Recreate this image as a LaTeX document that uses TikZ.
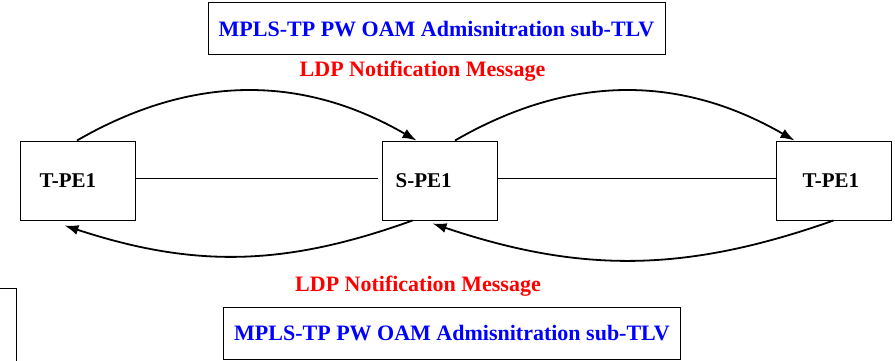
\documentclass[tikz,border=0pt]{standalone}
\usepackage{fontspec}
\setmainfont{Liberation Serif}
\usetikzlibrary{arrows.meta}
\usetikzlibrary{positioning}
\tikzset{msg/.style = {-{Latex[length=14pt, width=10pt]}, line width=1.8pt}}
\tikzset{pebox/.style = {draw, line width=1pt, minimum width=115pt, minimum height=79pt, inner sep=0pt}}
\tikzset{pelabel/.style = {font=\fontsize{21}{25}\selectfont\bfseries, inner sep=0pt}}
\tikzset{tlvbox/.style = {draw, line width=1pt, minimum width=457pt, minimum height=52pt, inner sep=0pt,
                          font=\fontsize{22}{26}\selectfont\bfseries, text=oamblue}}
\tikzset{ldptext/.style = {font=\fontsize{22}{26}\selectfont\bfseries, text=ldpred, inner sep=0pt}}
\definecolor{oamblue}{rgb}{0, 0, 1}
\definecolor{ldpred}{rgb}{1, 0, 0}

\begin{document}
\begin{tikzpicture}[x=1pt, y=-1pt]
    \clip (0, 0) rectangle (895, 361);

    \node [pebox] (tpe1) at (77.5, 180.5) {};
    \node [pebox, right=246pt of tpe1] (spe1) {};
    \node [pebox, right=278pt of spe1] (tpe2) {};
    \node [pelabel, anchor=west] (tpe1lbl) at ([xshift=20pt]tpe1.west) {T-PE1};
    \node [pelabel, anchor=west] (spe1lbl) at ([xshift=14pt]spe1.west) {S-PE1};
    \node [pelabel, anchor=west] (tpe2lbl) at ([xshift=27pt]tpe2.west) {T-PE1};

    \draw [line width=0.6pt] ([yshift=2.5pt]tpe1.east) -- ([xshift=-4pt, yshift=2.5pt]spe1.west);
    \draw [line width=0.6pt] ([yshift=2.5pt]spe1.east) -- ([yshift=2.5pt]tpe2.west);

    \draw [msg] ([xshift=-0.5pt]tpe1.north) to [bend left=30] ([xshift=35pt]spe1.north west);
    \draw [msg] ([xshift=15.5pt]spe1.north) to [bend left=30] ([xshift=19pt]tpe2.north west);
    \draw [msg] ([xshift=31pt]spe1.south west) to [bend left=19] ([xshift=45pt, yshift=-5pt]tpe1.south west);
    \draw [msg] (tpe2.south) to [bend left=19] ([xshift=51pt, yshift=-3pt]spe1.south west);

    \node [tlvbox] (tlvtop) at (436.5, 29) {MPLS-TP PW OAM Admisnitration sub-TLV};
    \node [ldptext, anchor=base] (ldptop) at (422.5, 77) {LDP Notification Message};
    \node [ldptext, anchor=base] (ldpbot) at (418, 291) {LDP Notification Message};
    \node [tlvbox] (tlvbot) at (452, 333) {MPLS-TP PW OAM Admisnitration sub-TLV};

    \draw [line width=1pt] (-10, 288) rectangle (16, 380);
\end{tikzpicture}
\end{document}
